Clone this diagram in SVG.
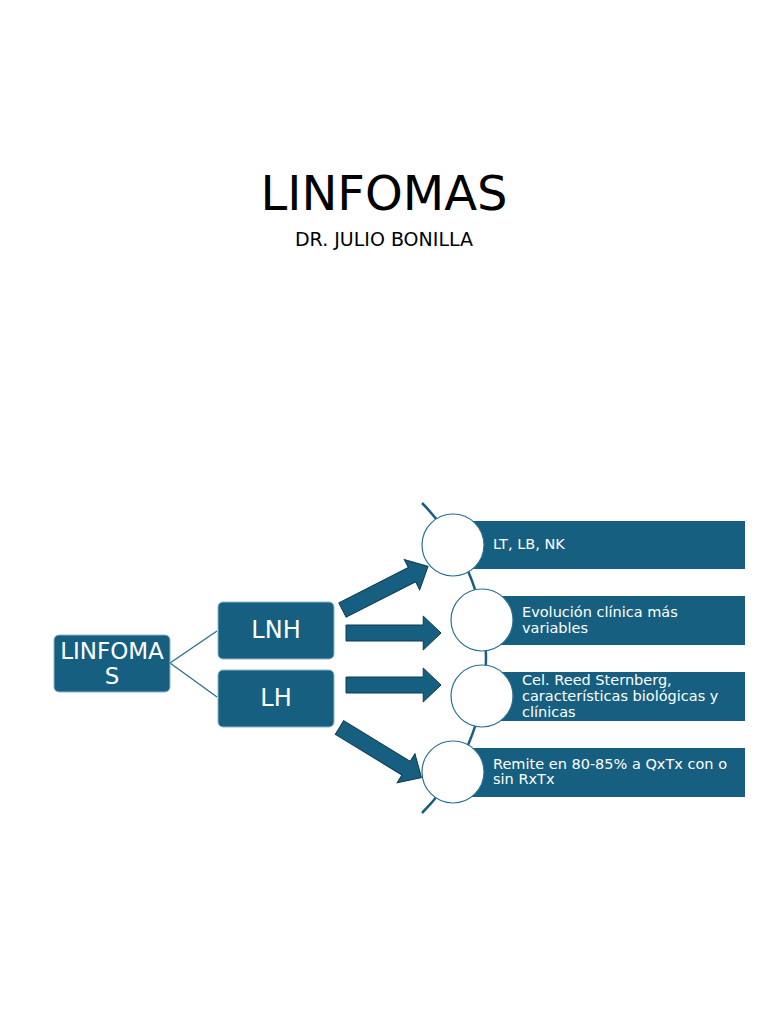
<svg xmlns="http://www.w3.org/2000/svg" width="768" height="1024" viewBox="0 0 768 1024">
<style>
.box{fill:#175f80;stroke:#8fb3c6;stroke-width:1}
.band{fill:#175f80}
.circ{fill:#fff;stroke:#2a6f8f;stroke-width:1.2}
.arrow{fill:#175f80;stroke:#0d3a4f;stroke-width:1}
.t{font-family:"DejaVu Sans",sans-serif;fill:#fff}
.link{stroke:#2a6f8f;stroke-width:1.3;fill:none}
.spine{stroke:#175f80;stroke-width:2.5;fill:none}
</style>
<defs>
<path id="arr" d="M0,-8 H78 V-17 L96,0 L78,17 V8 H0 Z"/>
</defs>
<rect width="768" height="1024" fill="#fff"/>
<text x="384" y="210" text-anchor="middle" font-family="DejaVu Sans, sans-serif" font-size="48" fill="#000">LINFOMAS</text>
<text x="384" y="246" text-anchor="middle" font-family="DejaVu Sans, sans-serif" font-size="19" fill="#000">DR. JULIO BONILLA</text>
<g id="connectors">
<path class="spine" d="M422,503 A219.7,219.7 0 0 1 422,813"/>
<line class="link" x1="170" y1="663" x2="217" y2="631"/>
<line class="link" x1="170" y1="663" x2="217" y2="697"/>
<use href="#arr" class="arrow" transform="translate(342.5,610) rotate(-27)"/>
<use href="#arr" class="arrow" transform="translate(346,633) scale(0.99,1)"/>
<use href="#arr" class="arrow" transform="translate(346,685) scale(0.99,1)"/>
<use href="#arr" class="arrow" transform="translate(339.5,727.5) rotate(31.4)"/>
</g>
<g id="n-linfomas">
<rect class="box" x="54" y="635" width="116" height="57" rx="5"/>
<text class="t" x="112" y="659" text-anchor="middle" font-size="23">LINFOMA</text>
<text class="t" x="112" y="684" text-anchor="middle" font-size="23">S</text>
</g>
<g id="n-lnh">
<rect class="box" x="218" y="602" width="116" height="57" rx="5"/>
<text class="t" x="276" y="638" text-anchor="middle" font-size="24">LNH</text>
</g>
<g id="n-lh">
<rect class="box" x="218" y="670" width="116" height="57" rx="5"/>
<text class="t" x="276" y="706" text-anchor="middle" font-size="24">LH</text>
</g>
<g id="n-1">
<rect class="band" x="453" y="521" width="292" height="48"/>
<circle class="circ" cx="453" cy="545" r="31"/>
<text class="t" x="493" y="549" font-size="14.5">LT, LB, NK</text>
</g>
<g id="n-2">
<rect class="band" x="482" y="596" width="263" height="49"/>
<circle class="circ" cx="482" cy="620" r="31"/>
<text class="t" x="522" y="617" font-size="14.5">Evolución clínica más</text>
<text class="t" x="522" y="633" font-size="14.5">variables</text>
</g>
<g id="n-3">
<rect class="band" x="482" y="672" width="263" height="49"/>
<circle class="circ" cx="482" cy="696" r="31"/>
<text class="t" x="522" y="685" font-size="14.5">Cel. Reed Sternberg,</text>
<text class="t" x="522" y="701" font-size="14.5">características biológicas y</text>
<text class="t" x="522" y="717" font-size="14.5">clínicas</text>
</g>
<g id="n-4">
<rect class="band" x="453" y="748" width="292" height="49"/>
<circle class="circ" cx="453" cy="772" r="31"/>
<text class="t" x="493" y="769" font-size="14.5">Remite en 80-85% a QxTx con o</text>
<text class="t" x="493" y="784" font-size="14.5">sin RxTx</text>
</g>
</svg>
